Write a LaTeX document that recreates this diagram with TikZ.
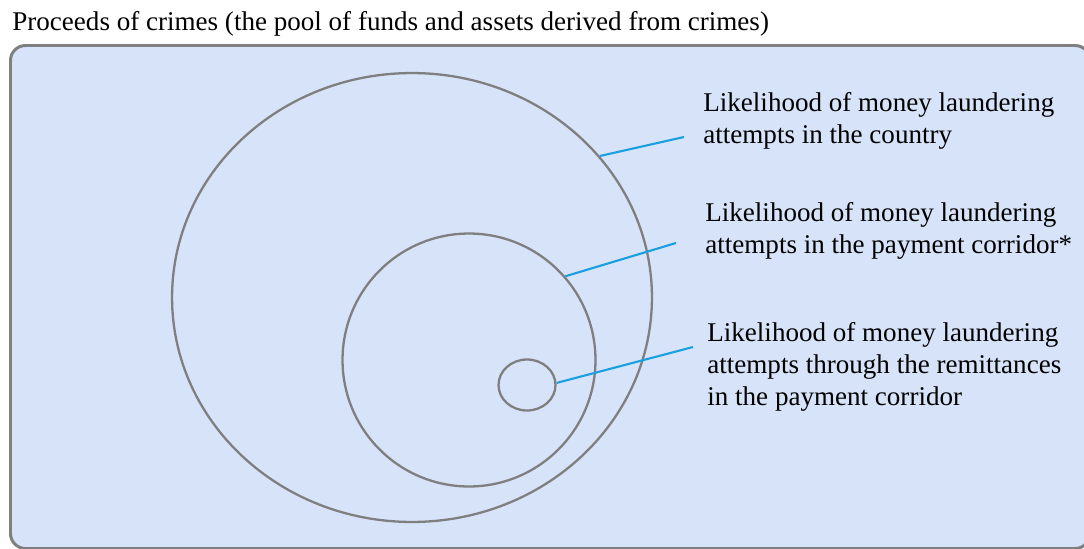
\documentclass[tikz,border=0pt]{standalone}
\usepackage{fontspec}
\setmainfont{LiberationSerif}[Extension=.ttf, UprightFont=*-Regular]
\usetikzlibrary{shapes.geometric, positioning}
\definecolor{mfill}{HTML}{D7E3F9}
\definecolor{mgray}{HTML}{7F7F7F}
\definecolor{mblue}{HTML}{19A0DE}
\tikzstyle{pool} = [draw=mgray, line width=1.7pt, fill=mfill, rounded corners=0.3cm]
\tikzstyle{ring} = [ellipse, draw=mgray, line width=1.3pt, inner sep=0pt]
\tikzstyle{note} = [anchor=base west, align=left, inner sep=0pt, font=\rmfamily\fontsize{15.4}{18.2}\selectfont]
\tikzstyle{pointer} = [draw=mblue, line width=1.2pt]

\begin{document}
\begin{tikzpicture}[x=0.02cm, y=-0.02cm]
\useasboundingbox (0,0) rectangle (1084,548);
%Pool of proceeds
\node (title) [note] at (12,30) {Proceeds of crimes (the pool of funds and assets derived from crimes)};
\draw [pool] (10.5,45.5) rectangle (1090,548.5);
%Rings
\node (country) [ring, minimum width=9.6cm, minimum height=8.98cm] at (412,297.5) {};
\node (corridor) [ring, minimum width=5.06cm, minimum height=5.06cm] at (469,360) {};
\node (remit) [ring, minimum width=1.14cm, minimum height=1.02cm] at (527,385) {};
%Labels
\node (lcountry) [note] at (703,143) {Likelihood of money laundering\\attempts in the country};
\node (lcorridor) [note] at (705,253) {Likelihood of money laundering\\attempts in the payment corridor*};
\node (lremit) [note] at (707,405) {Likelihood of money laundering\\attempts through the remittances\\in the payment corridor};
\coordinate (pcountry) at (684,137);
\coordinate (pcorridor) at (676,243);
\coordinate (premit) at (693,347);
\draw [pointer] (country.37) -- (pcountry);
\draw [pointer] (corridor.41) -- (pcorridor);
\draw [pointer] (remit.4) -- (premit);
\end{tikzpicture}
\end{document}
